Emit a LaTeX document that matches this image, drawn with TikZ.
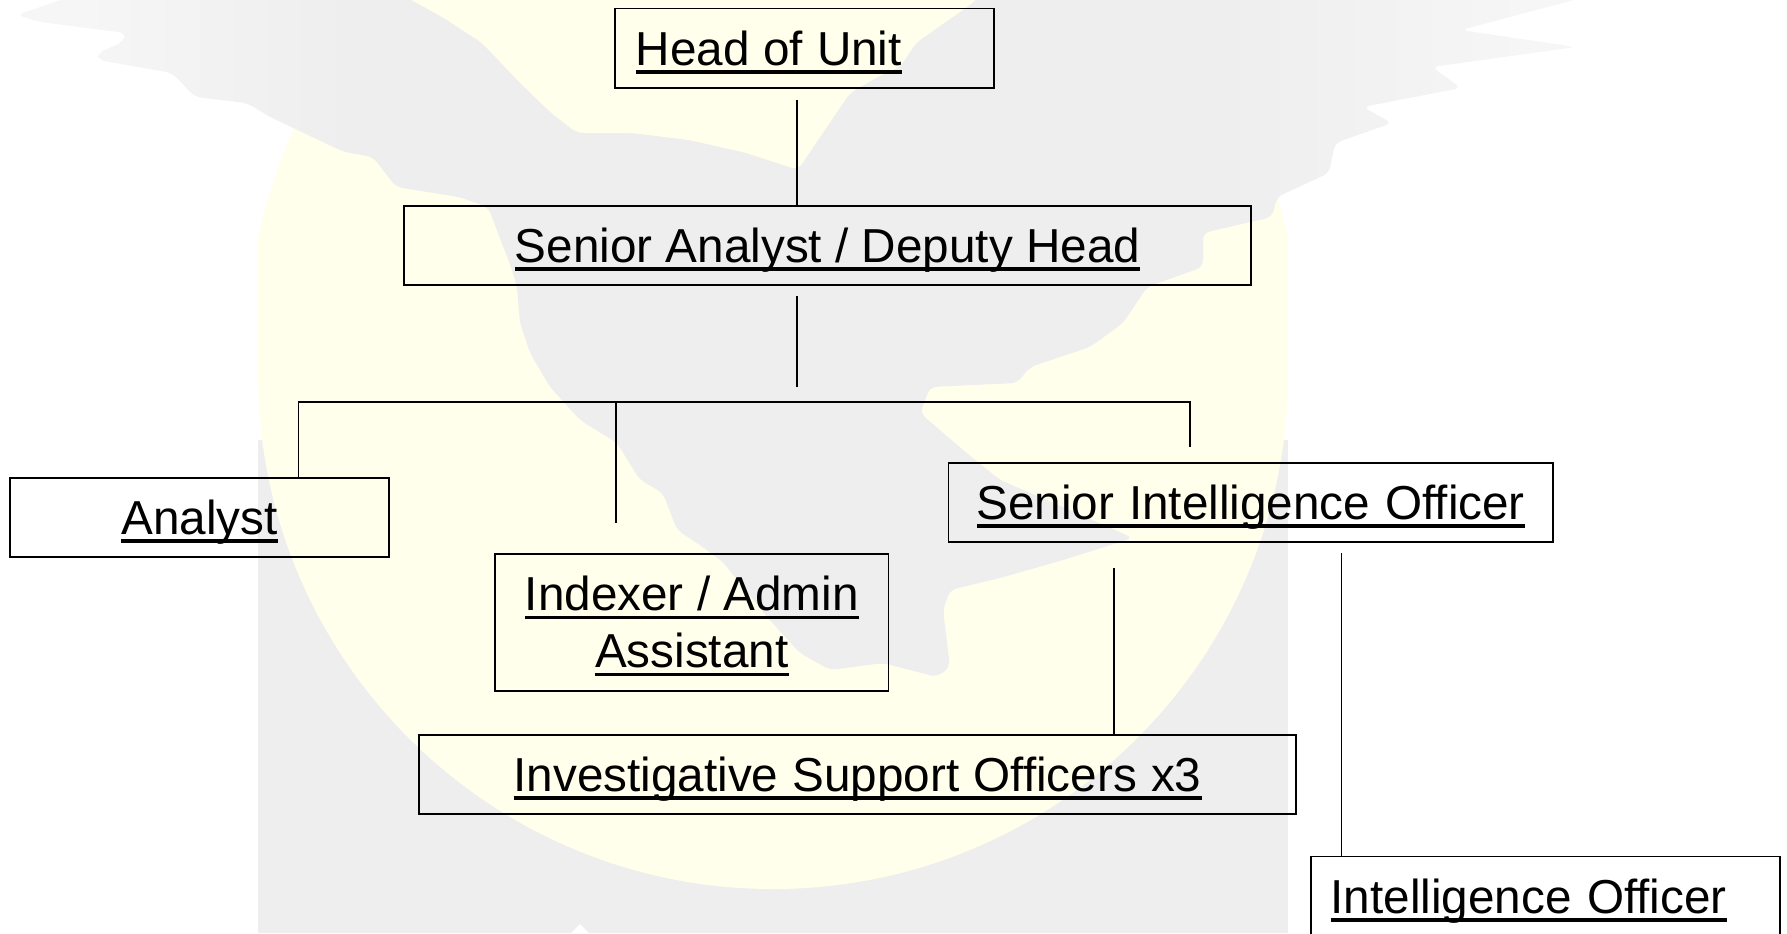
\documentclass[tikz,border=0pt]{standalone}
\usepackage{fontspec}
\setmainfont{Liberation Sans}
\definecolor{wmgray}{HTML}{EEEEEF}
\definecolor{wmgrayc}{HTML}{F6F6F6}
\definecolor{wmyellow}{HTML}{FFFFEB}
\pgfdeclarehorizontalshading{wingfade}{100bp}{color(0bp)=(wmgrayc); color(27.5bp)=(wmgrayc); color(35bp)=(wmgray); color(59bp)=(wmgray); color(67.5bp)=(wmgrayc); color(100bp)=(wmgrayc)}
\newcommand\ulbox[1]{\leavevmode\setbox0\hbox{#1}\rlap{\smash{\rule[-6.4pt]{\wd0}{2.7pt}}}\box0\relax}
\newcommand\eaglepath{(75,-5) -- (17,15) -- (40,22) -- (126,33) -- (123,42) -- (98,53) -- (98,60) -- (172,73) -- (195,97) -- (247,103) -- (270,117) -- (344,152) -- (373,157) -- (396,187) -- (459,197) -- (488,207) -- (511,267) -- (517,287) -- (520,323) -- (530,353) -- (550,387) -- (580,420) -- (617,443) -- (640,480) -- (663,493) -- (677,530) -- (700,545) -- (723,562) -- (767,617) -- (800,653) -- (830,670) -- (883,663) -- (937,677) -- (950,667) -- (943,610) -- (950,590) -- (1000,578) -- (1063,560) -- (1133,538) -- (1070,510) -- (1000,480) -- (963,450) -- (920,413) -- (930,387) -- (1017,383) -- (1030,367) -- (1090,347) -- (1123,323) -- (1147,287) -- (1203,267) -- (1203,233) -- (1272,217) -- (1277,197) -- (1329,173) -- (1335,143) -- (1392,123) -- (1363,107) -- (1461,88) -- (1432,67) -- (1576,47) -- (1461,30) -- (1593,-5) -- (980,-5) -- (973,3) -- (916,43) -- (900,67) -- (878,77) -- (850,93) -- (827,127) -- (798,170) -- (746,153) -- (689,140) -- (631,133) -- (577,133) -- (551,113) -- (517,80) -- (482,43) -- (442,17) -- (402,-5) -- cycle}
\tikzset{
  x=0.75pt,y=-0.75pt,
  orgbox/.style={draw=black,line width=1.3pt,rectangle,inner sep=0pt,font=\fontsize{35.75}{42.75}\selectfont},
  oneline/.style={text height=30pt,text depth=4.5pt},
  wire/.style={draw=black,line width=1.3pt},
}
\begin{document}
\begin{tikzpicture}
\clip (0,0) rectangle (1787,933);
% watermark: grey panel, yellow disc, eagle fading towards the wing tips
\fill[wmgray] (258,440) rectangle (1288,933);
\begin{scope}
  \clip (258,-10) rectangle (1288,374);
  \fill[wmyellow] (773,374) ellipse[x radius=397.5pt,y radius=431pt];
\end{scope}
\begin{scope}
  \clip (258,374) rectangle (1288,933);
  \fill[wmyellow] (773,374) circle[radius=386.25pt];
\end{scope}
\fill[white] (571,933) -- (580,924) -- (589,933) -- cycle;
\begin{scope}
  \clip[rounded corners=5pt] \eaglepath;
  \shade[shading=wingfade] (-10,-10) rectangle (1800,700);
\end{scope}
% boxes
\node[orgbox,oneline,minimum width=284.25pt,minimum height=59.6pt,text width=253.25pt,align=left] (head) at (804.5,48.25) {\hspace*{0pt}\spaceskip=10.4pt\ulbox{Head of Unit}};
\node[orgbox,oneline,minimum width=635.25pt,minimum height=59.5pt] (deputy) at (827.5,245.35) {\ulbox{Senior Analyst / Deputy Head}};
\node[orgbox,oneline,minimum width=284pt,minimum height=59.5pt] (analyst) at (199.65,517.5) {\ulbox{Analyst}};
\node[orgbox,minimum width=295.2pt,minimum height=102.75pt,align=center] (indexer) at (691.8,622.3) {\ulbox{Indexer / Admin}\\\ulbox{Assistant}};
\node[orgbox,oneline,minimum width=657.75pt,minimum height=59pt] (support) at (857.5,774.5) {\spaceskip=10.6pt\ulbox{Investigative Support Officers x3}};
\node[orgbox,oneline,minimum width=453.45pt,minimum height=59.25pt] (sio) at (1250.7,502.2) {\spaceskip=11.2pt\ulbox{Senior Intelligence Officer}};
\node[orgbox,oneline,minimum width=351.75pt,minimum height=60pt,text width=322.5pt,align=left] (io) at (1545.5,896.5) {\hspace*{0pt}\spaceskip=11.6pt\ulbox{Intelligence Officer}};
% free ends
\coordinate (headdrop) at (797,99.5);
\coordinate (deptop) at (797,296);
\coordinate (depend) at (797,387);
\coordinate (busleft) at (298.5,402);
\coordinate (busright) at (1190,402);
\coordinate (busrightend) at (1190,447);
\coordinate (busmid) at (616,402);
\coordinate (busmidend) at (616,522.5);
\coordinate (siodropa) at (1114.3,568);
\coordinate (siodropb) at (1341.6,553);
% connectors
\draw[wire] (headdrop) -- (headdrop |- deputy.north);
\draw[wire] (deptop) -- (depend);
\draw[wire,line join=miter] (busleft |- analyst.north) -- (busleft) -- (busright) -- (busrightend);
\draw[wire] (busmid) -- (busmidend);
\draw[wire] (siodropa) -- (siodropa |- support.north);
\draw[wire] (siodropb) -- (siodropb |- io.north);
\end{tikzpicture}
\end{document}
